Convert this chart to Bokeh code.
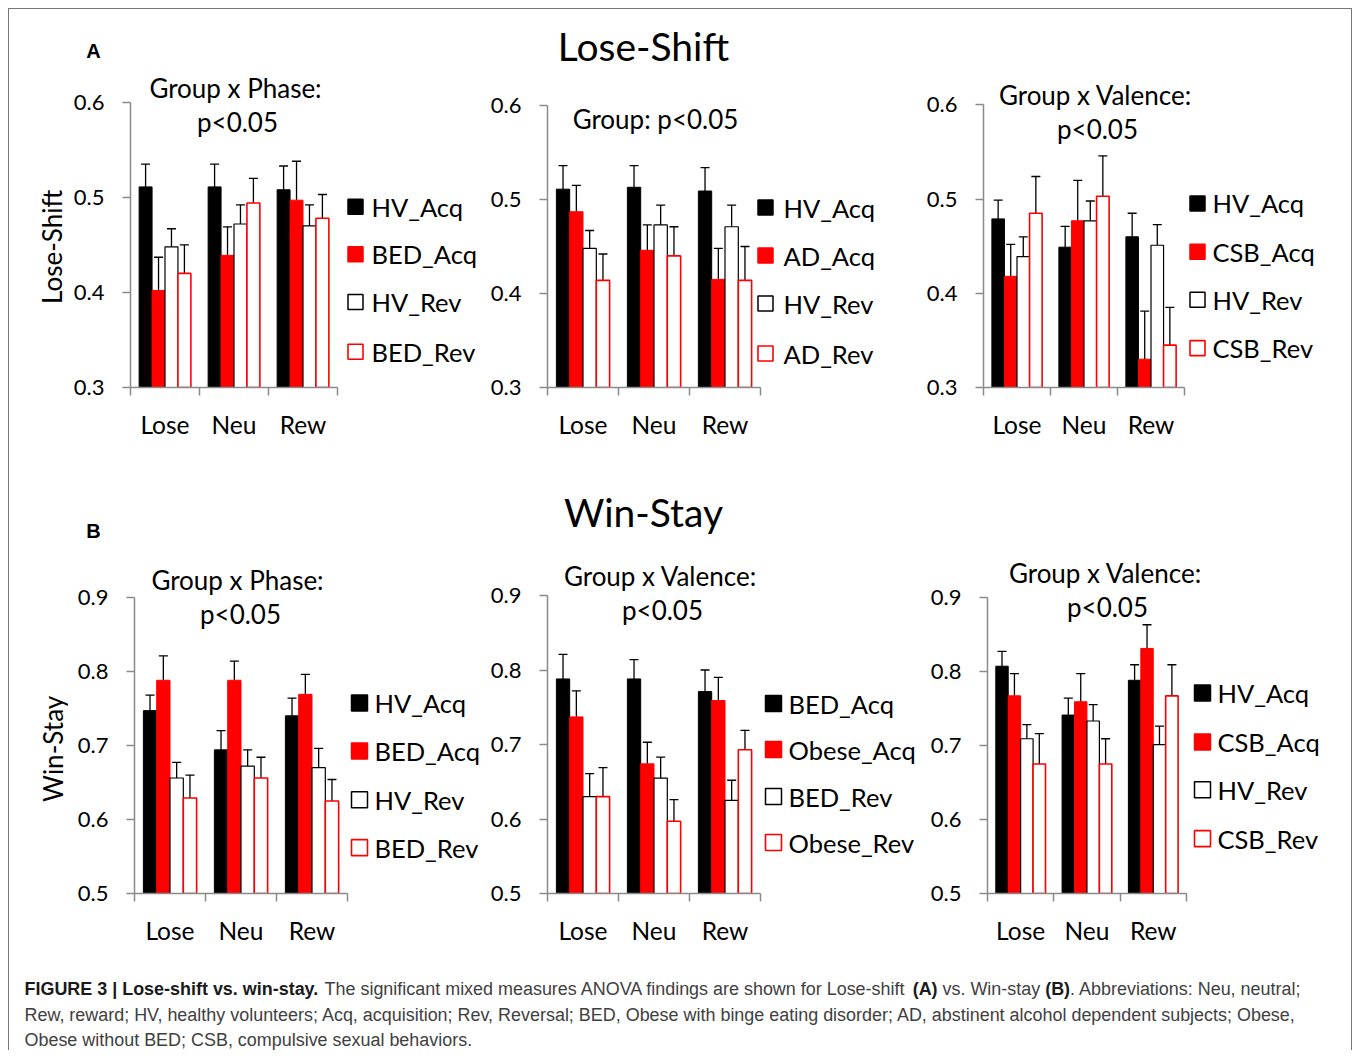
import math
from bokeh.plotting import figure
from bokeh.models import FixedTicker, Range1d, Whisker, ColumnDataSource, TeeHead
from bokeh.layouts import column, row
from bokeh.embed import file_html
from bokeh.resources import INLINE
from bokeh.core.properties import value

# ---------------- data ----------------
conditions = ["Lose", "Neu", "Rew"]

# Panel A1: Lose-Shift, BED vs HV (Group x Phase)
a1_names = ["HV_Acq", "BED_Acq", "HV_Rev", "BED_Rev"]
a1_hv_acq = [0.511, 0.511, 0.508]
a1_bed_acq = [0.402, 0.439, 0.497]
a1_hv_rev = [0.448, 0.472, 0.470]
a1_bed_rev = [0.420, 0.494, 0.478]
a1_hv_acq_se = [0.024, 0.024, 0.025]
a1_bed_acq_se = [0.035, 0.030, 0.041]
a1_hv_rev_se = [0.019, 0.020, 0.022]
a1_bed_rev_se = [0.030, 0.026, 0.025]

# Panel A2: Lose-Shift, AD vs HV (Group)
a2_names = ["HV_Acq", "AD_Acq", "HV_Rev", "AD_Rev"]
a2_hv_acq = [0.511, 0.513, 0.509]
a2_ad_acq = [0.487, 0.446, 0.415]
a2_hv_rev = [0.448, 0.473, 0.471]
a2_ad_rev = [0.414, 0.440, 0.414]
a2_hv_acq_se = [0.025, 0.023, 0.025]
a2_ad_acq_se = [0.028, 0.027, 0.033]
a2_hv_rev_se = [0.019, 0.021, 0.023]
a2_ad_rev_se = [0.028, 0.031, 0.036]

# Panel A3: Lose-Shift, CSB vs HV (Group x Valence)
a3_names = ["HV_Acq", "CSB_Acq", "HV_Rev", "CSB_Rev"]
a3_hv_acq = [0.479, 0.449, 0.460]
a3_csb_acq = [0.418, 0.477, 0.330]
a3_hv_rev = [0.439, 0.477, 0.451]
a3_csb_rev = [0.485, 0.503, 0.345]
a3_hv_acq_se = [0.020, 0.022, 0.025]
a3_csb_acq_se = [0.034, 0.043, 0.051]
a3_hv_rev_se = [0.021, 0.021, 0.022]
a3_csb_rev_se = [0.039, 0.043, 0.040]

# Panel B1: Win-Stay, BED vs HV (Group x Phase)
b1_names = ["HV_Acq", "BED_Acq", "HV_Rev", "BED_Rev"]
b1_hv_acq = [0.747, 0.694, 0.740]
b1_bed_acq = [0.788, 0.788, 0.769]
b1_hv_rev = [0.656, 0.672, 0.670]
b1_bed_rev = [0.629, 0.656, 0.625]
b1_hv_acq_se = [0.021, 0.026, 0.024]
b1_bed_acq_se = [0.033, 0.026, 0.027]
b1_hv_rev_se = [0.021, 0.022, 0.026]
b1_bed_rev_se = [0.031, 0.028, 0.029]

# Panel B2: Win-Stay, BED vs Obese (Group x Valence)
b2_names = ["BED_Acq", "Obese_Acq", "BED_Rev", "Obese_Rev"]
b2_bed_acq = [0.788, 0.788, 0.771]
b2_obese_acq = [0.737, 0.674, 0.759]
b2_bed_rev = [0.630, 0.655, 0.625]
b2_obese_rev = [0.630, 0.597, 0.693]
b2_bed_acq_se = [0.033, 0.026, 0.029]
b2_obese_acq_se = [0.035, 0.029, 0.031]
b2_bed_rev_se = [0.031, 0.028, 0.027]
b2_obese_rev_se = [0.039, 0.029, 0.026]

# Panel B3: Win-Stay, CSB vs HV (Group x Valence)
b3_names = ["HV_Acq", "CSB_Acq", "HV_Rev", "CSB_Rev"]
b3_hv_acq = [0.807, 0.741, 0.788]
b3_csb_acq = [0.767, 0.759, 0.831]
b3_hv_rev = [0.709, 0.733, 0.701]
b3_csb_rev = [0.675, 0.675, 0.767]
b3_hv_acq_se = [0.020, 0.023, 0.021]
b3_csb_acq_se = [0.030, 0.038, 0.032]
b3_hv_rev_se = [0.019, 0.022, 0.025]
b3_csb_rev_se = [0.041, 0.034, 0.042]

lose_shift_ticks = [0.3, 0.4, 0.5, 0.6]
win_stay_ticks = [0.5, 0.6, 0.7, 0.8, 0.9]

# ---------------- styling ----------------
FONT = "Lato"
AXIS_GRAY = "#8a8a8a"
RED = "#ff0000"
STYLES = [  # fill, line, line width
    ("#000000", "#000000", 1.0),
    (RED, RED, 1.0),
    ("#ffffff", "#000000", 1.2),
    ("#ffffff", RED, 1.6),
]
BAR_W = 0.1875
OFFSETS = [-1.5 * BAR_W, -0.5 * BAR_W, 0.5 * BAR_W, 1.5 * BAR_W]
ORIGIN = 9  # page px of the layout's top-left content corner
LABEL_COL = 68  # page px where the panels start (axis-title column to its left)
ROT_SHIFT = 40  # px correction for the rotated-text anchor


def make_panel(geom, names, means, ses, yticks, titles, legend_px):
    L, T, W, H, AX, AY, YT, CW = geom
    ymin, ymax = yticks[0], yticks[-1]
    pxu = (AY - YT) / (ymax - ymin)
    frame_w = W - (AX - L)
    frame_h = AY - T
    xend = frame_w / CW
    yend = ymin + frame_h / pxu

    def dx(px):
        return (px - AX) / CW

    def dy(py):
        return ymin + (AY - py) / pxu

    p = figure(width=W, height=H, title=None,
               x_range=Range1d(0, xend), y_range=Range1d(ymin, yend),
               toolbar_location=None, output_backend="svg",
               min_border_left=AX - L, min_border_right=0,
               min_border_top=0, min_border_bottom=T + H - AY)
    p.outline_line_color = None
    p.xgrid.visible = False
    p.ygrid.visible = False
    p.background_fill_color = "white"
    p.border_fill_color = "white"

    # bars + error bars
    for i, (m, s) in enumerate(zip(means, ses)):
        fill, line, lw = STYLES[i]
        xs = [c + 0.5 + OFFSETS[i] for c in range(len(conditions))]
        src = ColumnDataSource(dict(x=xs, top=m, upper=[a + b for a, b in zip(m, s)]))
        p.vbar(x="x", top="top", bottom=ymin, width=BAR_W, source=src,
               fill_color=fill, line_color=line, line_width=lw)
        p.add_layout(Whisker(base="x", lower="top", upper="upper", source=src,
                             line_color="black", line_width=1.3, lower_head=None,
                             upper_head=TeeHead(size=9, line_color="black", line_width=1.3)))

    # axes
    ya = p.yaxis[0]
    ya.ticker = FixedTicker(ticks=yticks)
    ya.bounds = (ymin, ymax)
    ya.axis_line_color = AXIS_GRAY
    ya.axis_line_width = 1.5
    ya.major_tick_line_color = AXIS_GRAY
    ya.major_tick_line_width = 1.5
    ya.major_tick_out = 8
    ya.major_tick_in = 0
    ya.minor_tick_line_color = None
    ya.major_label_text_font = FONT
    ya.major_label_text_font_size = "22px"
    ya.major_label_text_color = "black"
    ya.major_label_standoff = 18

    xa = p.xaxis[0]
    xa.ticker = FixedTicker(ticks=[0.5, 1.5, 2.5], minor_ticks=[0, 1, 2, 3])
    xa.major_label_overrides = {0.5: conditions[0], 1.5: conditions[1], 2.5: conditions[2]}
    xa.bounds = (0, 3)
    xa.axis_line_color = AXIS_GRAY
    xa.axis_line_width = 1.5
    xa.major_tick_line_color = None
    xa.major_tick_out = 0
    xa.major_tick_in = 0
    xa.minor_tick_line_color = AXIS_GRAY
    xa.minor_tick_line_width = 1.5
    xa.minor_tick_out = 8
    xa.minor_tick_in = 0
    xa.major_label_text_font = FONT
    xa.major_label_text_font_size = "24.5px"
    xa.major_label_text_color = "black"
    xa.major_label_standoff = 14

    # titles
    for txt, (tx, ty) in titles:
        p.text(x=[dx(tx)], y=[dy(ty)], text=[txt], text_font=value(FONT),
               text_font_size="26px", text_align="center", text_baseline="middle",
               text_color="black")

    # legend
    sq_x, txt_x, ys, sq = legend_px
    for i, name in enumerate(names):
        fill, line, lw = STYLES[i]
        p.scatter(x=[dx(sq_x)], y=[dy(ys[i])], marker="square", size=sq,
                  fill_color=fill, line_color=line, line_width=max(lw, 1.5))
        p.text(x=[dx(txt_x)], y=[dy(ys[i])], text=[name], text_font=value(FONT),
               text_font_size="25.5px", text_align="left", text_baseline="middle",
               text_color="black")
    return p


def blank(W, H):
    p = figure(width=W, height=H, title=None, x_range=Range1d(0, W), y_range=Range1d(0, H),
               toolbar_location=None, output_backend="svg", x_axis_type=None,
               y_axis_type=None, min_border=0)
    p.outline_line_color = None
    p.xgrid.visible = False
    p.ygrid.visible = False
    return p


def axis_title(text, top, height, anchor_px):
    """Narrow column holding the rotated y-axis title; anchor = (x centre, y of text start)."""
    W = LABEL_COL - ORIGIN
    p = blank(W, height)
    ax_, ay_ = anchor_px
    p.text(x=[ax_ - ORIGIN], y=[height - (ay_ + ROT_SHIFT - top)], text=[text], angle=math.pi / 2,
           text_font=value(FONT), text_font_size="26px", text_color="black",
           text_align="left", text_baseline="middle")
    return p


# geometry: page-px (left, top, width, height, axis x, axis y, y of top tick, category width)
ROW_A_T, ROW_A_H = 68, 382
ROW_B_T, ROW_B_H = 548, 407
A_SPLIT = [LABEL_COL, 485, 920, 1351]
B_SPLIT = [LABEL_COL, 485, 925, 1351]

pa1 = make_panel((A_SPLIT[0], ROW_A_T, A_SPLIT[1] - A_SPLIT[0], ROW_A_H, 130, 389, 102, 69), a1_names,
                 [a1_hv_acq, a1_bed_acq, a1_hv_rev, a1_bed_rev],
                 [a1_hv_acq_se, a1_bed_acq_se, a1_hv_rev_se, a1_bed_rev_se],
                 lose_shift_ticks,
                 [("Group x Phase:", (235, 88)), ("p<0.05", (237, 122))],
                 (355, 371, [207, 255, 303, 353], 15))
pa2 = make_panel((A_SPLIT[1], ROW_A_T, A_SPLIT[2] - A_SPLIT[1], ROW_A_H, 547, 387, 105, 71), a2_names,
                 [a2_hv_acq, a2_ad_acq, a2_hv_rev, a2_ad_rev],
                 [a2_hv_acq_se, a2_ad_acq_se, a2_hv_rev_se, a2_ad_rev_se],
                 lose_shift_ticks,
                 [("Group: p<0.05", (655, 118))],
                 (765, 783, [207, 255, 303, 353], 15))
pa3 = make_panel((A_SPLIT[2], ROW_A_T, A_SPLIT[3] - A_SPLIT[2], ROW_A_H, 983, 392, 105, 67), a3_names,
                 [a3_hv_acq, a3_csb_acq, a3_hv_rev, a3_csb_rev],
                 [a3_hv_acq_se, a3_csb_acq_se, a3_hv_rev_se, a3_csb_rev_se],
                 lose_shift_ticks,
                 [("Group x Valence:", (1095, 95)), ("p<0.05", (1097, 129))],
                 (1197, 1212, [205, 254, 303, 352], 15))

pb1 = make_panel((B_SPLIT[0], ROW_B_T, B_SPLIT[1] - B_SPLIT[0], ROW_B_H, 134, 894, 597, 71), b1_names,
                 [b1_hv_acq, b1_bed_acq, b1_hv_rev, b1_bed_rev],
                 [b1_hv_acq_se, b1_bed_acq_se, b1_hv_rev_se, b1_bed_rev_se],
                 win_stay_ticks,
                 [("Group x Phase:", (237, 580)), ("p<0.05", (240, 614))],
                 (359, 374, [703, 751, 800, 848], 16))
pb2 = make_panel((B_SPLIT[1], ROW_B_T, B_SPLIT[2] - B_SPLIT[1], ROW_B_H, 547, 893, 595, 71), b2_names,
                 [b2_bed_acq, b2_obese_acq, b2_bed_rev, b2_obese_rev],
                 [b2_bed_acq_se, b2_obese_acq_se, b2_bed_rev_se, b2_obese_rev_se],
                 win_stay_ticks,
                 [("Group x Valence:", (660, 575)), ("p<0.05", (662, 609))],
                 (773, 788, [703, 749, 796, 842], 16))
pb3 = make_panel((B_SPLIT[2], ROW_B_T, B_SPLIT[3] - B_SPLIT[2], ROW_B_H, 987, 894, 597, 66.3), b3_names,
                 [b3_hv_acq, b3_csb_acq, b3_hv_rev, b3_csb_rev],
                 [b3_hv_acq_se, b3_csb_acq_se, b3_hv_rev_se, b3_csb_rev_se],
                 win_stay_ticks,
                 [("Group x Valence:", (1105, 573)), ("p<0.05", (1107, 607))],
                 (1202, 1217, [693, 742, 790, 839], 16))

ta = axis_title("Lose-Shift", ROW_A_T, ROW_A_H, (51, 310))
tb = axis_title("Win-Stay", ROW_B_T, ROW_B_H, (52, 807))

FULL_W = A_SPLIT[3] - ORIGIN

# header A (page y 9..68)
hA_h = ROW_A_T - ORIGIN
hA = blank(FULL_W, hA_h)
hA.text(x=[93 - ORIGIN], y=[hA_h - (50 - ORIGIN)], text=["A"], text_font=value("Liberation Sans"),
        text_font_style="bold", text_font_size="20px", text_align="center", text_baseline="middle")
hA.text(x=[643 - ORIGIN], y=[hA_h - (45 - ORIGIN)], text=["Lose-Shift"], text_font=value(FONT),
        text_font_size="39px", text_align="center", text_baseline="middle")

# header B (page y 450..548)
hB_top = ROW_A_T + ROW_A_H
hB_h = ROW_B_T - hB_top
hB = blank(FULL_W, hB_h)
hB.text(x=[93 - ORIGIN], y=[hB_h - (530 - hB_top)], text=["B"], text_font=value("Liberation Sans"),
        text_font_style="bold", text_font_size="20px", text_align="center", text_baseline="middle")
hB.text(x=[643 - ORIGIN], y=[hB_h - (511 - hB_top)], text=["Win-Stay"], text_font=value(FONT),
        text_font_size="39px", text_align="center", text_baseline="middle")

# ---------------- caption (page y 955..1050) ----------------
# Liberation Sans advance widths (Arial-compatible metrics, 1/1000 em) to flow mixed bold/normal text
_REG = {' ': 278, '(': 333, ')': 333, ',': 278, '-': 333, '.': 278, ':': 278, ';': 278, '|': 260,
        'A': 667, 'B': 667, 'C': 722, 'D': 722, 'E': 667, 'F': 611, 'G': 778, 'H': 722, 'I': 278,
        'J': 500, 'K': 667, 'L': 556, 'M': 833, 'N': 722, 'O': 778, 'P': 667, 'Q': 778, 'R': 722,
        'S': 667, 'T': 611, 'U': 722, 'V': 667, 'W': 944, 'X': 667, 'Y': 667, 'Z': 611,
        'a': 556, 'b': 556, 'c': 500, 'd': 556, 'e': 556, 'f': 278, 'g': 556, 'h': 556, 'i': 222,
        'j': 222, 'k': 500, 'l': 222, 'm': 833, 'n': 556, 'o': 556, 'p': 556, 'q': 556, 'r': 333,
        's': 500, 't': 278, 'u': 556, 'v': 500, 'w': 722, 'x': 500, 'y': 500, 'z': 500}
_BOLD = {' ': 278, '(': 333, ')': 333, ',': 278, '-': 333, '.': 278, ':': 333, ';': 333, '|': 280,
         'A': 722, 'B': 722, 'C': 722, 'D': 722, 'E': 667, 'F': 611, 'G': 778, 'H': 722, 'I': 278,
         'J': 556, 'K': 722, 'L': 611, 'M': 833, 'N': 722, 'O': 778, 'P': 667, 'Q': 778, 'R': 722,
         'S': 667, 'T': 611, 'U': 722, 'V': 667, 'W': 944, 'X': 667, 'Y': 667, 'Z': 611,
         'a': 556, 'b': 611, 'c': 556, 'd': 611, 'e': 556, 'f': 333, 'g': 611, 'h': 611, 'i': 278,
         'j': 278, 'k': 556, 'l': 278, 'm': 889, 'n': 611, 'o': 611, 'p': 611, 'q': 611, 'r': 389,
         's': 556, 't': 333, 'u': 611, 'v': 556, 'w': 778, 'x': 556, 'y': 556, 'z': 500}


def em_width(s, bold):
    t = _BOLD if bold else _REG
    return sum(t.get(ch, 556) for ch in s) / 1000.0


caption_lines = [
    [("FIGURE 3 | Lose-shift vs. win-stay.", True),
     (" The significant mixed measures ANOVA findings are shown for Lose-shift ", False),
     ("(A)", True), (" vs. Win-stay ", False), ("(B)", True),
     (". Abbreviations: Neu, neutral;", False)],
    [("Rew, reward; HV, healthy volunteers; Acq, acquisition; Rev, Reversal; BED, Obese with binge "
      "eating disorder; AD, abstinent alcohol dependent subjects; Obese,", False)],
    [("Obese without BED; CSB, compulsive sexual behaviors.", False)],
]
caption_line_y = [988, 1014, 1039]
CAP_X0 = 24
CAP_LINE2_W = 1276  # page px width of the second caption line in the reference
cap_size = CAP_LINE2_W / em_width(caption_lines[1][0][0], False)

cap_top = ROW_B_T + ROW_B_H
cap_h = 95
cap = blank(FULL_W, cap_h)
for segs, py in zip(caption_lines, caption_line_y):
    x = CAP_X0
    for txt, bold in segs:
        lead = len(txt) - len(txt.lstrip(" "))
        x_draw = x + em_width(" " * lead, bold) * cap_size
        cap.text(x=[x_draw - ORIGIN], y=[cap_h - (py - cap_top)], text=[txt.strip(" ")],
                 text_font=value("Liberation Sans"),
                 text_font_style="bold" if bold else "normal",
                 text_font_size=f"{cap_size:.2f}px", text_align="left",
                 text_baseline="middle", text_color="#1a1a1a" if bold else "#404040")
        x += em_width(txt, bold) * cap_size

layout = column(hA, row(ta, pa1, pa2, pa3), hB, row(tb, pb1, pb2, pb3), cap,
                styles={"margin-left": "8px", "margin-top": "8px",
                        "border-left": "1px solid #777777", "border-top": "1px solid #777777",
                        "border-right": "1px solid #777777"})

open("out.html", "w").write(file_html(layout, INLINE))
